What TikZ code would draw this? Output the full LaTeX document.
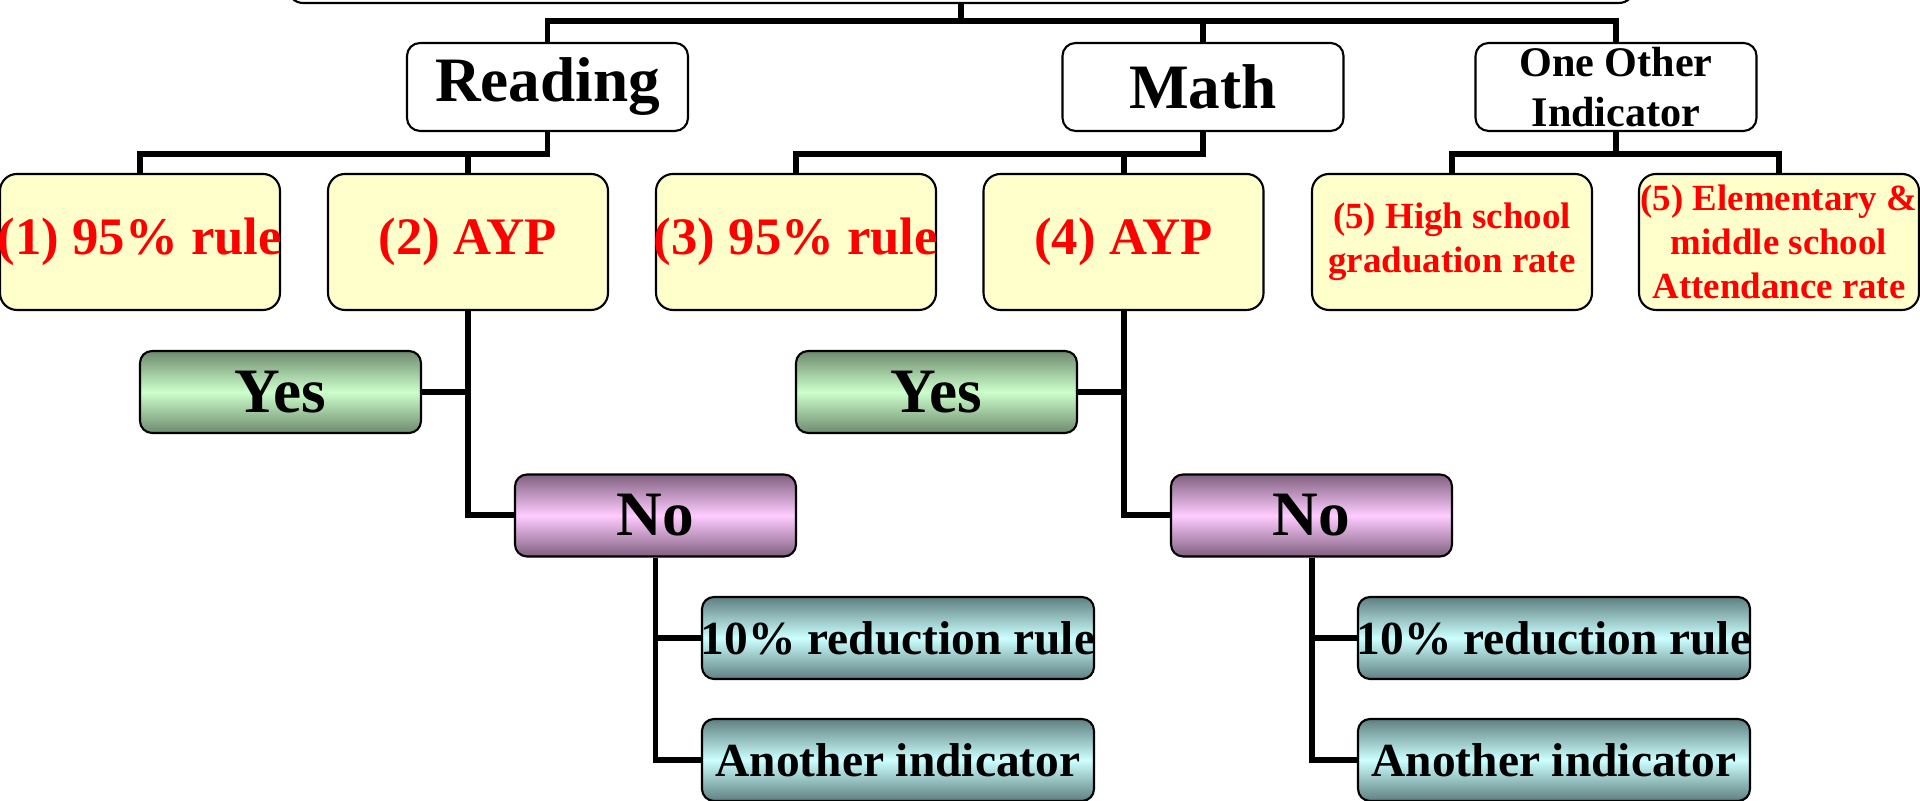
\documentclass[tikz,border=0pt]{standalone}
\usepackage{fontspec}
\setmainfont{Liberation Serif}
\usepackage{tikz}

\definecolor{pale}{HTML}{FFFFCC}
\definecolor{yesdark}{HTML}{6E8A6E}
\definecolor{yeslight}{HTML}{CCFFCC}
\definecolor{nodark}{HTML}{806080}
\definecolor{nolight}{HTML}{FFCCFF}
\definecolor{cutdark}{HTML}{5F7F80}
\definecolor{cutlight}{HTML}{CCFFFF}

\newcommand{\spill}[1]{\makebox[0pt]{#1}}

\begin{document}
\begin{tikzpicture}[
  line width=1.7pt,
  box/.style={draw,line width=0.6pt,align=center,inner sep=0pt},
  root/.style={box,fill=white,rounded corners=0.15cm,minimum width=13.46cm,minimum height=0.8cm},
  head/.style={box,fill=white,rounded corners=0.13cm,minimum width=2.81cm,minimum height=0.88cm,
    font=\fontsize{18}{20}\selectfont\bfseries},
  rule/.style={box,fill=pale,text=red,rounded corners=0.17cm,minimum width=2.8cm,minimum height=1.36cm,
    font=\fontsize{15}{17}\selectfont\bfseries},
  small/.style={font=\fontsize{10.5}{12.5}\selectfont\bfseries},
  yes/.style={answer,top color=yesdark,bottom color=yesdark,middle color=yeslight},
  no/.style={answer,top color=nodark,bottom color=nodark,middle color=nolight},
  cut/.style={answer,top color=cutdark,bottom color=cutdark,middle color=cutlight,minimum width=3.92cm,
    font=\fontsize{13.5}{15}\selectfont\bfseries}]
  \tikzstyle{answer}=[box,rounded corners=0.12cm,minimum width=2.81cm,minimum height=0.82cm,
    font=\fontsize{18}{20}\selectfont\bfseries]

  \useasboundingbox (0,0) rectangle (19.2,8.01);

  % top row
  \node [root] (root) at (9.61,8.38) {};
  \node [head] (r) at (5.475,7.14) {Reading};
  \node [head] (m) at (12.03,7.14) {Math};
  \node [head,font=\fontsize{12}{14.2}\selectfont\bfseries] (o) at (16.16,7.14) {One Other\\Indicator};

  % the five checks
  \node [rule] (r1) at (1.40,5.59) {\spill{(1) 95\% rule}};
  \node [rule] (r2) at (4.68,5.59) {(2) AYP};
  \node [rule] (m1) at (7.96,5.59) {\spill{(3) 95\% rule}};
  \node [rule] (m2) at (11.235,5.59) {(4) AYP};
  \node [rule,small] (o1) at (14.52,5.59) {(5) High school\\graduation rate};
  \node [rule,small] (o2) at (17.79,5.59) {(5) Elementary \&\\middle school\\Attendance rate};

  % reading answers
  \node [yes] (ry) at (2.805,4.09) {Yes};
  \node [no] (rn) at (6.555,2.855) {No};
  \node [cut] (rt) at (8.98,1.63) {\spill{10\% reduction rule}};
  \node [cut] (ra) at (8.98,0.41) {\spill{Another indicator}};

  % math answers
  \node [yes] (my) at (9.365,4.09) {Yes};
  \node [no] (mn) at (13.115,2.855) {No};
  \node [cut] (mt) at (15.54,1.63) {\spill{10\% reduction rule}};
  \node [cut] (ma) at (15.54,0.41) {\spill{Another indicator}};

  % connectors
  \coordinate (t) at (9.61,7.80);
  \draw (root.south) -- (t);
  \draw (r.north) |- (t) -| (o.north);
  \draw (m.north) -- (m.north |- t);

  \draw (r1.north) |- (r.south |- 0,6.47) -- (r.south);
  \draw (r2.north) -- (r2.north |- 0,6.47);
  \draw (m1.north) |- (m.south |- 0,6.47) -- (m.south);
  \draw (m2.north) -- (m2.north |- 0,6.47);
  \draw (o1.north) |- (o.south |- 0,6.47) -| (o2.north);
  \draw (o.south) -- (o.south |- 0,6.47);

  \draw (r2.south) |- (rn.west);
  \draw (ry.east) -- (ry.east -| r2.south);
  \draw (rn.south) |- (rt.west);
  \draw (rn.south) |- (ra.west);

  \draw (m2.south) |- (mn.west);
  \draw (my.east) -- (my.east -| m2.south);
  \draw (mn.south) |- (mt.west);
  \draw (mn.south) |- (ma.west);
\end{tikzpicture}
\end{document}
